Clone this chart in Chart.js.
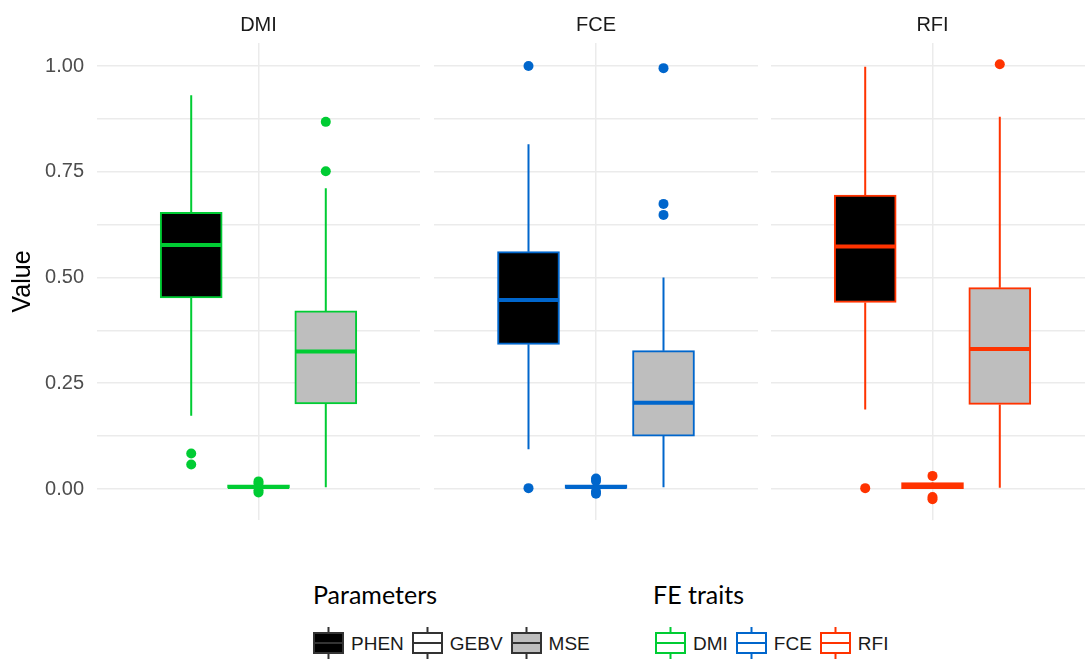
<!DOCTYPE html>
<html>
<head>
<meta charset="utf-8">
<script src="https://cdn.jsdelivr.net/npm/chart.js@4.4.1/dist/chart.umd.min.js"></script>
<style>
  html, body { margin: 0; padding: 0; background: #fff; width: 1085px; height: 661px; overflow: hidden; }
  body { position: relative; font-family: "Liberation Sans", Arial, sans-serif; }
  canvas { position: absolute; top: 0; }
  .legtitle { position: absolute; font-family: Lato, "Open Sans", sans-serif; font-size: 25px; color: #000; line-height: 1; white-space: nowrap; }
  .legrow { position: absolute; display: flex; align-items: center; height: 32px; }
  .item { display: flex; align-items: center; margin-right: 8px; }
  .item svg { display: block; margin-right: 7px; }
  .item span { font-size: 19px; color: #1a1a1a; line-height: 1; }
</style>
</head>
<body>
<canvas id="c0" width="420" height="540" style="left:0px"></canvas>
<canvas id="c1" width="324" height="540" style="left:434px"></canvas>
<canvas id="c2" width="323" height="540" style="left:771px"></canvas>

<div class="legtitle" id="t1" style="left:313px; top:582px;">Parameters</div>
<div class="legtitle" id="t2" style="left:653px; top:582px;">FE traits</div>
<div class="legrow" id="legParams" style="left:313px; top:627px;"></div>
<div class="legrow" id="legTraits" style="left:655px; top:627px;"></div>

<script>
// ---------- DATA ----------
const traits = ['DMI', 'FCE', 'RFI'];
const parameters = ['PHEN', 'GEBV', 'MSE'];
const traitColors = ['#00CC33', '#0066CC', '#FF3300'];
const parameterFills = ['#000000', '#FFFFFF', '#BEBEBE'];
const yTickValues = [0, 0.25, 0.5, 0.75, 1.0];

// per trait: [PHEN, GEBV, MSE]
const whiskerLow  = [[0.173, 0.000, 0.004], [0.094, -0.001, 0.004], [0.188, 0.000, 0.003]];
const q1          = [[0.452, 0.000, 0.201], [0.342, 0.000, 0.125], [0.441, 0.001, 0.200]];
const median      = [[0.577, 0.005, 0.325], [0.447, 0.005, 0.204], [0.573, 0.008, 0.331]];
const q3          = [[0.654, 0.010, 0.421], [0.561, 0.010, 0.327], [0.695, 0.015, 0.476]];
const whiskerHigh = [[0.931, 0.011, 0.711], [0.815, 0.012, 0.500], [0.998, 0.016, 0.880]];
const outliers = [
  [[0.084, 0.058], [0.018, 0.013, -0.003, -0.008], [0.868, 0.751]],
  [[1.000, 0.002], [0.025, 0.019, -0.006, -0.011], [0.995, 0.674, 0.648]],
  [[0.002], [0.031, -0.019, -0.024], [1.004]]
];

// ---------- LAYOUT ----------
const dodge = 0.25;       // distance between dodged boxes (x units)
const halfBox = 0.1133;   // half box width (x units)
const gridColor = '#EBEBEB';

const stripPlugin = {
  id: 'strip',
  afterDraw(chart, args, opts) {
    const {ctx, chartArea} = chart;
    ctx.save();
    ctx.font = '20px "Liberation Sans", Arial, sans-serif';
    ctx.fillStyle = '#1A1A1A';
    ctx.textAlign = 'center';
    ctx.textBaseline = 'middle';
    ctx.fillText(opts.text, (chartArea.left + chartArea.right) / 2, 25);
    ctx.restore();
  }
};

function makePanel(p) {
  const color = traitColors[p];
  const pos = parameters.map((_, i) => (i - 1) * dodge);

  const boxes = parameters.map((_, i) => ({x: pos[i], y: [q1[p][i], q3[p][i]]}));
  const whiskers = [];
  const medians = [];
  const points = [];
  parameters.forEach((_, i) => {
    whiskers.push({x: pos[i], y: whiskerLow[p][i]}, {x: pos[i], y: q1[p][i]}, {x: pos[i], y: null});
    whiskers.push({x: pos[i], y: q3[p][i]}, {x: pos[i], y: whiskerHigh[p][i]}, {x: pos[i], y: null});
    medians.push({x: pos[i] - halfBox, y: median[p][i]}, {x: pos[i] + halfBox, y: median[p][i]}, {x: pos[i], y: null});
    outliers[p][i].forEach(v => points.push({x: pos[i], y: v}));
  });

  const first = p === 0;
  new Chart(document.getElementById('c' + p), {
    type: 'bar',
    data: {
      datasets: [
        {type: 'line', data: medians, borderColor: color, borderWidth: 4, pointRadius: 0, spanGaps: false, fill: false, order: 0, borderCapStyle: 'butt'},
        {type: 'scatter', data: points, backgroundColor: color, borderWidth: 0, pointRadius: 5, order: 1},
        {type: 'bar', data: boxes, backgroundColor: parameterFills, borderColor: color, borderWidth: 2, borderSkipped: false, barThickness: 62, grouped: false, order: 2},
        {type: 'line', data: whiskers, borderColor: color, borderWidth: 2, pointRadius: 0, spanGaps: false, fill: false, order: 3}
      ]
    },
    options: {
      responsive: false,
      animation: false,
      events: [],
      layout: {autoPadding: false, padding: {top: 43, bottom: 20, left: 0, right: 0}},
      plugins: {legend: {display: false}, tooltip: {enabled: false}, strip: {text: traits[p]}},
      scales: {
        x: {
          type: 'linear', min: -0.6, max: 0.6, offset: false,
          afterBuildTicks: s => { s.ticks = [{value: 0}]; },
          afterFit: s => { s.height = 0; s.paddingLeft = 0; s.paddingRight = 0; s.paddingTop = 0; s.paddingBottom = 0; },
          ticks: {display: false},
          grid: {color: gridColor, lineWidth: 1.5, drawTicks: false, offset: false},
          border: {display: false}
        },
        y: {
          type: 'linear', min: -0.0733, max: 1.0544,
          afterBuildTicks: s => {
            const t = [];
            for (let v = 0; v <= 1.0001; v += 0.125) t.push({value: +v.toFixed(3)});
            s.ticks = t;
          },
          afterFit: s => { s.width = first ? 97 : 0; s.paddingTop = 0; s.paddingBottom = 0; s.paddingLeft = 0; s.paddingRight = 0; },
          ticks: {
            display: first,
            padding: 13,
            color: '#4D4D4D',
            font: {family: '"Liberation Sans", Arial, sans-serif', size: 20},
            callback: v => yTickValues.some(t => Math.abs(t - v) < 1e-6) ? v.toFixed(2) : ''
          },
          title: {
            display: first, text: 'Value', color: '#000',
            font: {family: '"Liberation Sans", Arial, sans-serif', size: 25},
            padding: {top: 8, bottom: 0}
          },
          grid: {color: gridColor, lineWidth: 1.5, drawTicks: false, offset: false},
          border: {display: false}
        }
      }
    },
    plugins: [stripPlugin]
  });
}
traits.forEach((_, p) => makePanel(p));

// ---------- LEGEND ----------
function keySvg(fill, stroke) {
  return '<svg width="31" height="32" viewBox="0 0 31 32">' +
    '<line x1="15.5" y1="0" x2="15.5" y2="6" stroke="' + stroke + '" stroke-width="2"/>' +
    '<line x1="15.5" y1="26" x2="15.5" y2="32" stroke="' + stroke + '" stroke-width="2"/>' +
    '<rect x="1" y="6" width="29" height="20" fill="' + fill + '" stroke="' + stroke + '" stroke-width="2"/>' +
    '<line x1="1" y1="16" x2="30" y2="16" stroke="' + stroke + '" stroke-width="2"/>' +
    '</svg>';
}
const paramStroke = ['#333333', '#333333', '#333333'];
document.getElementById('legParams').innerHTML = parameters.map((n, i) =>
  '<div class="item">' + keySvg(parameterFills[i], paramStroke[i]) + '<span>' + n + '</span></div>').join('');
document.getElementById('legTraits').innerHTML = traits.map((n, i) =>
  '<div class="item">' + keySvg('#FFFFFF', traitColors[i]) + '<span>' + n + '</span></div>').join('');
</script>
</body>
</html>
